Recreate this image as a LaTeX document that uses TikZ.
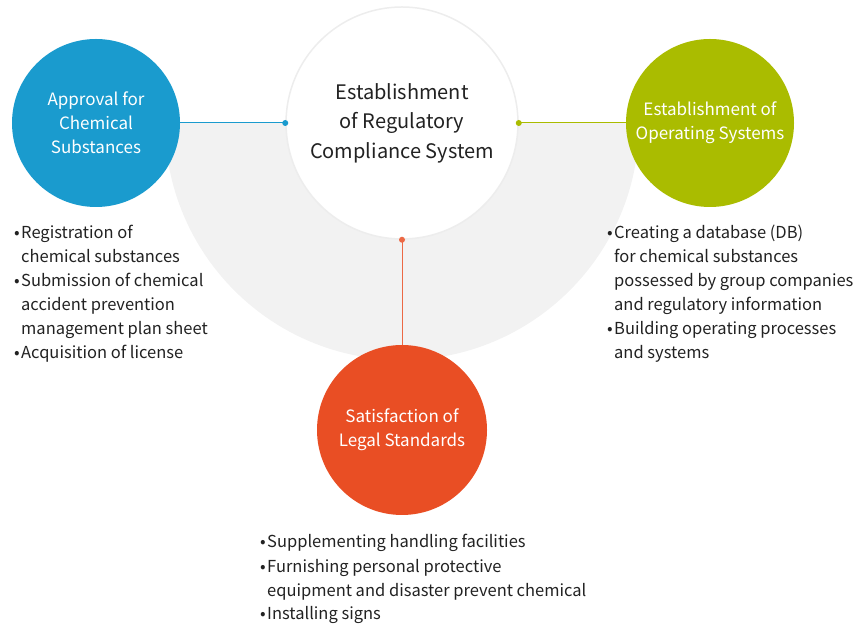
\documentclass[tikz,border=0pt]{standalone}
\usepackage{fontspec}
\setmainfont{Noto Sans CJK KR}
\usetikzlibrary{positioning}

\definecolor{approvalblue}{HTML}{1A9BCE}
\definecolor{systemgreen}{HTML}{AABC00}
\definecolor{legalorange}{HTML}{E94E24}
\definecolor{halfgrey}{HTML}{F2F2F2}
\definecolor{hubrim}{HTML}{EDEDED}
\definecolor{listtext}{HTML}{222222}

\tikzset{
  bigdisc/.style={circle, inner sep=0pt, minimum size=168pt, align=center,
    text=white, font=\fontsize{17}{24}\selectfont},
  hubdot/.style={circle, inner sep=0pt, minimum size=6pt},
  itemlist/.style={anchor=base west, inner sep=0pt, align=left, text=listtext,
    font=\fontsize{16.5}{24}\selectfont},
}
\newcommand{\itm}{\makebox[7pt][l]{\textbullet}}
\newcommand{\gap}{\hspace*{7pt}}

\begin{document}
\begin{tikzpicture}[x=1pt,y=1pt]
  \useasboundingbox (0,0) rectangle (856,626);

  % grey half disc behind the hub
  \fill[halfgrey] (165,503) arc[start angle=180, end angle=360, radius=237] -- cycle;

  \node[circle, draw=hubrim, line width=1.5pt, fill=white, minimum size=232pt,
    inner sep=0pt, align=center, text=listtext,
    font=\fontsize{20}{29.5}\selectfont] (core) at (402,503)
    {Establishment\\of Regulatory\\Compliance System};

  \node[bigdisc, fill=approvalblue] (approval) at (96,503) {Approval for\\Chemical\\Substances};
  \node[bigdisc, fill=systemgreen] (operating) at (710,503) {Establishment of\\Operating Systems};
  \node[bigdisc, fill=legalorange, minimum size=170pt] (legal) at (402,196) {Satisfaction of\\Legal Standards};

  % dots on the hub rim
  \node[hubdot, fill=approvalblue] (dotA) at (core.west) {};
  \node[hubdot, fill=systemgreen] (dotO) at (core.east) {};
  \node[hubdot, fill=legalorange!85!white] (dotL) at (core.south) {};

  \draw[approvalblue, line width=1pt] (approval.east) -- (dotA.center);
  \draw[systemgreen, line width=1pt] (dotO.center) -- (operating.west);
  \draw[legalorange!85!white, line width=1pt] (dotL.center) -- (legal.north);

  % lists sit on the baseline of their last line
  \node[itemlist] (listA) at (14,267)
    {\itm Registration of\\\gap chemical substances\\\itm Submission of chemical\\
     \gap accident prevention\\\gap management plan sheet\\\itm Acquisition of license};
  \node[itemlist] (listO) at (607,267)
    {\itm Creating a database (DB)\\\gap for chemical substances\\
     \gap possessed by group companies\\\gap and regulatory information\\
     \itm Building operating processes\\\gap and systems};
  \node[itemlist] (listL) at (260,6)
    {\itm Supplementing handling facilities\\\itm Furnishing personal protective\\
     \gap equipment and disaster prevent chemical\\\itm Installing signs};
\end{tikzpicture}
\end{document}
